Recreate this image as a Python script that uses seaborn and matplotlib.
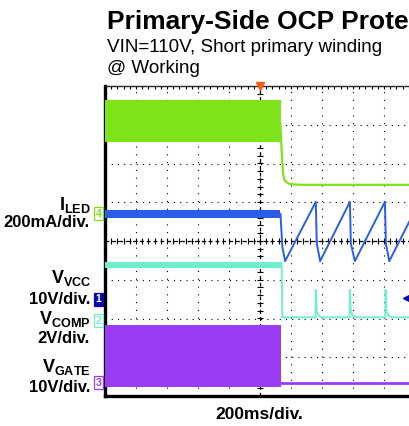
import numpy as np
import matplotlib
matplotlib.use("Agg")
import matplotlib.pyplot as plt
import seaborn as sns

# ---------------- data (time in divisions, 200 ms/div; amplitude in divisions) ----------------
green_band_t = [0.0, 5.68]
green_band_hi = [3.64, 3.64]
green_band_lo = [2.56, 2.56]
green_t = [5.66, 5.70, 5.74, 5.80, 5.95, 6.30, 10.0]
green_v = [3.00, 2.30, 1.75, 1.55, 1.47, 1.45, 1.45]

blue_band_t = [0.0, 5.66]
blue_band_hi = [0.81, 0.81]
blue_band_lo = [0.59, 0.59]
blue_t = [5.66, 5.72, 5.81, 6.80, 6.83, 6.94, 7.90, 7.93, 8.06, 9.03, 9.06, 9.17, 10.0]
blue_v = [0.70, -0.15, -0.52, 1.01, -0.06, -0.52, 1.01, -0.06, -0.52, 1.01, -0.06, -0.52, 0.79]

teal_band_t = [0.0, 5.70]
teal_band_hi = [-0.54, -0.54]
teal_band_lo = [-0.70, -0.70]
teal_t = [5.70, 5.72, 6.79, 6.80, 6.83, 6.90, 7.00, 7.89, 7.90, 7.93, 8.00, 8.10,
          9.04, 9.05, 9.08, 9.15, 9.25, 10.0]
teal_v = [-0.62, -1.97, -1.97, -1.26, -1.82, -1.93, -1.97, -1.97, -1.26, -1.82, -1.93, -1.97,
          -1.97, -1.26, -1.82, -1.93, -1.97, -1.97]

purple_band_t = [0.0, 5.68]
purple_band_hi = [-2.17, -2.17]
purple_band_lo = [-3.76, -3.76]
purple_t = [5.68, 10.0]
purple_v = [-3.67, -3.67]

channel_ids = ["4", "1", "2", "3"]
channel_levels = [0.70, -1.50, -2.06, -3.66]
trigger_level = -1.48
trigger_time = 5.0

# ---------------- style ----------------
sns.set_style("white")
plt.rcParams["font.family"] = ["Liberation Sans", "DejaVu Sans"]
plt.rcParams["text.color"] = "black"
plt.rcParams["mathtext.fontset"] = "custom"
plt.rcParams["mathtext.rm"] = "Liberation Sans:bold"
plt.rcParams["mathtext.it"] = "Liberation Sans:bold"
plt.rcParams["mathtext.bf"] = "Liberation Sans:bold"

GREEN = "#7fe31a"
BLUE = "#2a5ee8"
TEAL = "#6ef0cf"
PURPLE = "#9b3cf5"
DKBLUE = "#0a0aa8"
ORANGE = "#ff5a14"

W, H = 410, 426
fig = plt.figure(figsize=(W / 100, H / 100), dpi=100)
fig.patch.set_facecolor("white")
ax = fig.add_axes([105 / W, 30 / H, 310 / W, 310 / H])
ax.set_xlim(0, 10)
ax.set_ylim(-4, 4)

# grid
ax.set_xticks(np.arange(0, 11, 1))
ax.set_yticks(np.arange(-4, 5, 1))
ax.xaxis.set_minor_locator(matplotlib.ticker.MultipleLocator(0.2))
ax.yaxis.set_minor_locator(matplotlib.ticker.MultipleLocator(0.2))
ax.tick_params(which="both", direction="in", length=2.2, width=0.8, color="black",
               top=True, right=True, labelbottom=False, labelleft=False)
ax.xaxis.grid(True, which="major", color="black", linewidth=0.8, linestyle=(0, (1, 6.0)))
ax.yaxis.grid(True, which="major", color="black", linewidth=0.8, linestyle=(0, (1, 4.6)))
ax.set_axisbelow(True)

# center lines with crossing ticks
ax.axhline(0, color="black", lw=0.9, ls=(0, (3, 2.5)), zorder=1)
ax.axvline(trigger_time, color="black", lw=0.9, ls=(0, (3, 2.5)), zorder=1)
xs = np.arange(0.2, 10.0, 0.2)
ys = np.arange(-3.8, 4.0, 0.2)
ax.plot(xs, np.zeros_like(xs), ls="none", marker="|", ms=4, mew=0.8, color="black", zorder=1)
ax.plot(np.full_like(ys, trigger_time), ys, ls="none", marker="_", ms=4, mew=0.8, color="black", zorder=1)

for sp in ["left", "bottom"]:
    ax.spines[sp].set_linewidth(2.4)
    ax.spines[sp].set_color("black")
ax.spines["top"].set_linewidth(1.0)
ax.spines["right"].set_linewidth(1.0)

# ---------------- traces ----------------
ax.fill_between(green_band_t, green_band_lo, green_band_hi, color=GREEN, lw=0, zorder=3)
sns.lineplot(x=green_t, y=green_v, ax=ax, color=GREEN, lw=1.6, sort=False, estimator=None, zorder=3)

ax.fill_between(blue_band_t, blue_band_lo, blue_band_hi, color=BLUE, lw=0, zorder=3)
sns.lineplot(x=blue_t, y=blue_v, ax=ax, color=BLUE, lw=1.4, sort=False, estimator=None, zorder=3)

ax.fill_between(teal_band_t, teal_band_lo, teal_band_hi, color=TEAL, lw=0, zorder=3)
sns.lineplot(x=teal_t, y=teal_v, ax=ax, color=TEAL, lw=1.4, sort=False, estimator=None, zorder=3)

ax.fill_between(purple_band_t, purple_band_lo, purple_band_hi, color=PURPLE, lw=0, zorder=3)
sns.lineplot(x=purple_t, y=purple_v, ax=ax, color=PURPLE, lw=2.0, sort=False, estimator=None, zorder=3)

# trigger markers
ax.plot([trigger_time], [4.0], marker="v", ms=6, color=ORANGE, clip_on=False, zorder=6, ls="none")
ax.plot([9.74], [trigger_level], marker="<", ms=6, color=DKBLUE, clip_on=False, zorder=6, ls="none")

# channel ground markers
ch_colors = [GREEN, DKBLUE, TEAL, PURPLE]
for cid, lvl, c in zip(channel_ids, channel_levels, ch_colors):
    filled = cid == "1"
    ax.text(-0.21, lvl, cid, ha="center", va="center", fontsize=7.5, fontweight="bold",
            color="white" if filled else c, clip_on=False, zorder=6,
            bbox=dict(boxstyle="square,pad=0.15", fc=c if filled else "white", ec=c, lw=0.9))

# ---------------- text ----------------
def ftext(x, y, s, **kw):
    fig.text(x / W, 1 - y / H, s, **kw)

ftext(107, 29, "Primary-Side OCP Prote", fontsize=19, fontweight="bold", va="baseline", ha="left")
ftext(107, 52, "VIN=110V, Short primary winding", fontsize=13.6, va="baseline", ha="left")
ftext(107, 73, "@ Working", fontsize=13.6, va="baseline", ha="left")

lab_kw = dict(ha="right", va="baseline", fontsize=12, fontweight="bold")
sym_kw = dict(ha="right", va="baseline", fontsize=13)
ftext(91, 210, r"$\mathrm{I_{LED}}$", **sym_kw)
ftext(90, 227, "200mA/div.", **lab_kw)
ftext(91, 283, r"$\mathrm{V_{VCC}}$", **sym_kw)
ftext(90, 304, "10V/div.", **lab_kw)
ftext(91, 324, r"$\mathrm{V_{COMP}}$", **sym_kw)
ftext(90, 343, "2V/div.", **lab_kw)
ftext(91, 372, r"$\mathrm{V_{GATE}}$", **sym_kw)
ftext(90, 392, "10V/div.", **lab_kw)

ftext(259, 419, "200ms/div.", ha="center", va="baseline", fontsize=12.5, fontweight="bold")

fig.savefig("out.png", dpi=100)
